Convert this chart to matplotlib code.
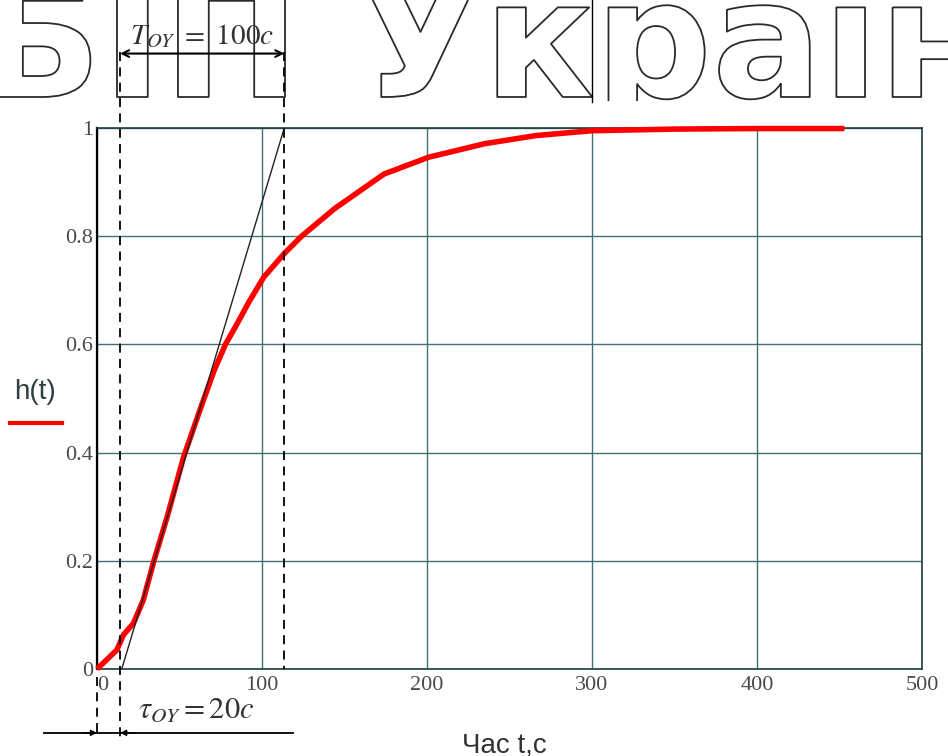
import matplotlib
matplotlib.use("Agg")
import matplotlib.pyplot as plt
import matplotlib.patheffects as pe
from matplotlib.lines import Line2D
from matplotlib.patches import Rectangle

plt.rcParams['mathtext.fontset'] = 'stix'

# данні перехідної характеристики h(t)
t = [0, 12, 16, 22, 28, 34.5, 42.5, 52.5, 63, 71, 78, 84, 92, 101, 113.5,
     124, 144, 174, 201, 235, 266, 300, 350, 400, 453]
h = [0, 0.035, 0.063, 0.084, 0.127, 0.2, 0.281, 0.392, 0.484, 0.552, 0.601,
     0.633, 0.678, 0.724, 0.768, 0.80, 0.851, 0.915, 0.946, 0.971, 0.986,
     0.995, 0.998, 0.999, 0.999]

# дотична
tan_t = [15, 113.5]
tan_h = [0, 1]

tau = 14        # запізнення (на графіку)
T_end = 113.5   # кінець сталої часу
xticks = [0, 100, 200, 300, 400, 500]
yticks = [0, 0.2, 0.4, 0.6, 0.8, 1]
ytick_labels = ['0', '0.2', '0.4', '0.6', '0.8', '1']

W, H = 948, 756
fig = plt.figure(figsize=(W / 100, H / 100), dpi=100)
ax = fig.add_axes([97 / W, 1 - 669 / H, 825 / W, 541 / H])

# водяний знак (обрізаний знизу)
wm = fig.text(-23 / W, 1 - 97 / H, 'БІП України', fontsize=118, fontweight='bold',
              family='DejaVu Sans', color=(1, 1, 1, 0), va='baseline', ha='left',
              zorder=-1,
              path_effects=[pe.Stroke(linewidth=1.3, foreground='#2a2a2a')])
wm.set_clip_path(Rectangle((0, 1 - 101 / H), 1, 101 / H, transform=fig.transFigure))

ax.set_xlim(0, 500)
ax.set_ylim(0, 1)
ax.set_xticks(xticks)
ax.set_xticklabels([str(v) for v in xticks])
ax.set_yticks(yticks)
ax.set_yticklabels(ytick_labels)
ax.grid(True, color='#3f7272', lw=1.0)
ax.tick_params(length=0, labelsize=16, labelcolor='#4a4a4a')
ax.tick_params(axis='x', pad=5)
ax.tick_params(axis='y', pad=3)
for lab in ax.get_xticklabels() + ax.get_yticklabels():
    lab.set_family('Liberation Serif')
ax.get_xticklabels()[0].set_ha('left')
for side in ['top', 'right', 'bottom']:
    ax.spines[side].set_color('#1e3c3c')
    ax.spines[side].set_linewidth(1.2)
ax.spines['left'].set_color('black')
ax.spines['left'].set_linewidth(1.6)

ax.plot(t, h, color='#ff0000', lw=4, zorder=5, clip_on=False, solid_capstyle='butt')
ax.plot(tan_t, tan_h, color='#222222', lw=1.0, zorder=6)

# штрихові лінії
dash = (0, (5, 3.5))
ax.plot([tau, tau], [1.14, -0.127], color='black', lw=1.3, ls=dash, clip_on=False, zorder=7)
ax.plot([T_end, T_end], [1.14, 0.0], color='black', lw=1.3, ls=dash, clip_on=False, zorder=7)
ax.plot([0, 0], [-0.015, -0.118], color='black', lw=1.3, ls=dash, clip_on=False, zorder=7)
ax.plot([300, 300], [1.048, 1.25], color='black', lw=1.0, clip_on=False, zorder=7)

# розмір T
ax.annotate('', xy=(T_end, 1.1376), xytext=(tau, 1.1376), annotation_clip=False,
            arrowprops=dict(arrowstyle='<->', color='black', lw=1.5,
                            shrinkA=0, shrinkB=0, mutation_scale=12))
ax.text(20, 1.155, r'$T_{OY}\ =\ 100c$', fontsize=21, color='#333333',
        ha='left', va='baseline', clip_on=False, zorder=8)

# розмір tau
ax.plot([-32, 118.5], [-0.118, -0.118], color='black', lw=1.3, clip_on=False)
ax.annotate('', xy=(0, -0.118), xytext=(-9, -0.118), annotation_clip=False,
            arrowprops=dict(arrowstyle='-|>', color='black', lw=1.0,
                            shrinkA=0, shrinkB=0, mutation_scale=9))
ax.annotate('', xy=(tau, -0.118), xytext=(tau + 9, -0.118), annotation_clip=False,
            arrowprops=dict(arrowstyle='-|>', color='black', lw=1.0,
                            shrinkA=0, shrinkB=0, mutation_scale=9))
ax.text(25, -0.09, r'$\tau_{OY}=20c$', fontsize=22, color='#333333',
        ha='left', va='baseline', clip_on=False)

# легенда
fig.text(14 / W, 1 - 399 / H, 'h(t)', fontsize=20, color='#2f3f45',
         family='Liberation Sans', va='baseline')
fig.add_artist(Line2D([10 / W, 62 / W], [1 - 423 / H, 1 - 423 / H],
                      color='#ff0000', lw=3))

fig.text(462 / W, 1 - 752 / H, 'Час t,c', fontsize=20, color='#333333',
         family='Liberation Sans', va='baseline')

fig.savefig('out.png', dpi=100)
